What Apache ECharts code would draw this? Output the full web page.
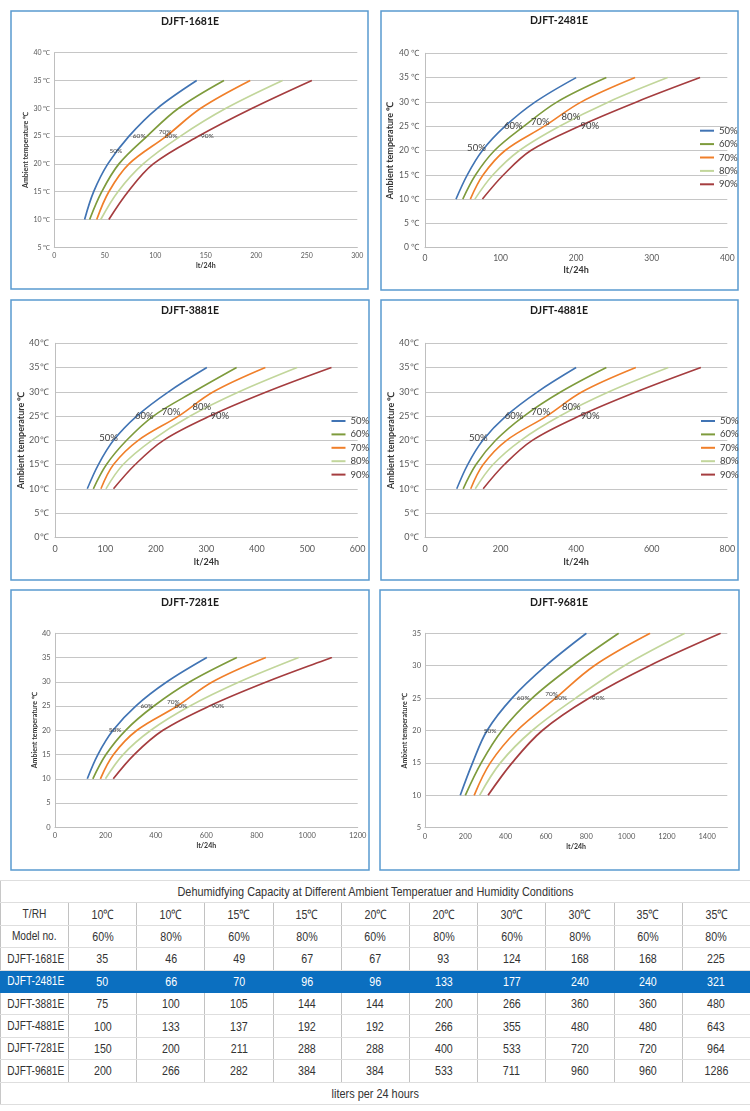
<!DOCTYPE html>
<html>
<head>
<meta charset="utf-8">
<script src="https://cdn.jsdelivr.net/npm/echarts/dist/echarts.min.js"></script>
<style>
  html, body { margin: 0; padding: 0; background: #fff; }
  #wrap { position: relative; width: 750px; height: 1111px; overflow: hidden; }
  #chart { position: absolute; left: 0; top: 0; width: 750px; height: 876px; }
  #tbl { position: absolute; left: 0; top: 880px; width: 750px; border-collapse: collapse; table-layout: fixed;
         font-size: 13px; color: #333; }
  #tbl tr { height: 22.4px; }
  #tbl td { padding: 0; text-align: center; white-space: nowrap; overflow: hidden;
            border-left: 1px solid #c2c2c2; border-right: 1px solid #c2c2c2;
            border-top: 1px solid #dedede; border-bottom: 1px solid #dedede; }
  #tbl td.first { font-size: 12.4px; }
  #tbl td.span { border-left: 1px solid #c8c8c8; border-right: 1px solid #c8c8c8; font-size: 13.3px; }
  #tbl tr.hl td { background: #0B6FC0; color: #fff; border-color: #0B6FC0; }
  #tbl span { display: inline-block; }
</style>
</head>
<body>
<div id="wrap">
  <div id="chart"></div>
  <table id="tbl"></table>
</div>
<script>
// ---------------- DATA ----------------
const temps = [10, 15, 20, 25, 30, 35];
const rhNames = ['50%', '60%', '70%', '80%', '90%'];

const cap1681 = [
  [30, 39, 53, 74, 102, 141],
  [35, 47, 64, 92, 123, 168],
  [42, 54, 74, 111, 145, 194],
  [46, 63, 88, 125, 170, 226],
  [54, 73, 98, 143, 196, 255]
];
const cap2481 = [
  [41, 56, 76, 106, 146, 200],
  [50, 67, 92, 131, 175, 240],
  [60, 77, 106, 158, 207, 278],
  [66, 90, 125, 178, 243, 321],
  [76, 104, 140, 204, 280, 364]
];
const cap3881 = [
  [64, 86, 116, 162, 225, 301],
  [76, 102, 142, 195, 275, 360],
  [91, 116, 165, 245, 314, 417],
  [101, 135, 192, 268, 365, 480],
  [116, 159, 215, 307, 420, 548]
];
const cap4881 = [
  [84, 113, 153, 214, 298, 400],
  [101, 135, 187, 262, 360, 480],
  [121, 154, 216, 322, 416, 558],
  [133, 180, 254, 357, 487, 644],
  [154, 210, 284, 408, 560, 730]
];
const cap7281 = [
  [128, 170, 230, 320, 444, 602],
  [150, 202, 280, 392, 535, 721],
  [180, 232, 325, 485, 625, 836],
  [200, 270, 380, 535, 732, 966],
  [231, 314, 428, 612, 840, 1098]
];
const cap9681 = [
  [175, 236, 308, 432, 600, 801],
  [200, 279, 382, 532, 732, 961],
  [244, 324, 457, 648, 840, 1117],
  [271, 374, 532, 748, 989, 1289],
  [313, 432, 582, 815, 1114, 1467]
];

const tableTitle = 'Dehumidfying Capacity at Different Ambient Temperatuer and Humidity Conditions';
const tableTempRow = ['T/RH', '10℃', '10℃', '15℃', '15℃', '20℃', '20℃', '30℃', '30℃', '35℃', '35℃'];
const tableRhRow = ['Model no.', '60%', '80%', '60%', '80%', '60%', '80%', '60%', '80%', '60%', '80%'];
const tableModels = ['DJFT-1681E', 'DJFT-2481E', 'DJFT-3881E', 'DJFT-4881E', 'DJFT-7281E', 'DJFT-9681E'];
const tableValues = [
  [35, 46, 49, 67, 67, 93, 124, 168, 168, 225],
  [50, 66, 70, 96, 96, 133, 177, 240, 240, 321],
  [75, 100, 105, 144, 144, 200, 266, 360, 360, 480],
  [100, 133, 137, 192, 192, 266, 355, 480, 480, 643],
  [150, 200, 211, 288, 288, 400, 533, 720, 720, 964],
  [200, 266, 282, 384, 384, 533, 711, 960, 960, 1286]
];
const tableFooter = 'liters per 24 hours';
const highlightModel = 'DJFT-2481E';

// ---------------- LAYOUT / STYLE ----------------
const colors = ['#4174B4', '#7E9B3C', '#F07F2A', '#C2D69B', '#A53D3F'];
const FONT = 'Lato, "Open Sans", sans-serif';
const labelIdx = [2, 3, 3, 3, 3];

const panels = [
  { title: 'DJFT-1681E', data: cap1681, box: [11, 11, 357, 278], tx: 190, ty: 16,
    grid: { left: 54.3, top: 52.7, width: 303, height: 194.6 },
    x: [0, 300, 50], y: [5, 40, 5], unit: ' ℃', tick: 7, name: 7, ygap: 20, xgap: 15, ym: 4, xm: 5,
    lbl: 6.5, offs: [[8, -13], [-8, 0], [-1.4, -4], [-9.5, 0], [8.6, 0]], legend: null },
  { title: 'DJFT-2481E', data: cap2481, box: [381, 11, 357, 279], tx: 559, ty: 15.5,
    grid: { left: 425, top: 53.3, width: 302.3, height: 194.4 },
    x: [0, 400, 100], y: [0, 40, 5], unit: ' ℃', tick: 8.5, name: 9, ygap: 30, xgap: 18, ym: 6, xm: 6.5,
    lbl: 9.5, offs: [[-6, -2.5], [-10.6, 0], [-4, -4.4], [11.4, -9], [10.6, 0]], legend: { left: 700, top: 124 } },
  { title: 'DJFT-3881E', data: cap3881, box: [11, 300, 358, 280], tx: 190, ty: 305,
    grid: { left: 55, top: 343.3, width: 302.7, height: 194 },
    x: [0, 600, 100], y: [0, 40, 5], unit: '℃', tick: 9, name: 9, ygap: 29, xgap: 20, ym: 6.5, xm: 7,
    lbl: 9.5, offs: [[-5, -2], [-9, 0], [-7.6, -4], [11.5, -9], [10, 0]], legend: { left: 331.5, top: 414.3 } },
  { title: 'DJFT-4881E', data: cap4881, box: [381, 300, 357, 280], tx: 559, ty: 305,
    grid: { left: 425, top: 343.3, width: 302.3, height: 194 },
    x: [0, 800, 200], y: [0, 40, 5], unit: '℃', tick: 9, name: 9, ygap: 29.5, xgap: 20, ym: 6.5, xm: 7,
    lbl: 9.5, offs: [[-4.5, -2], [-10, 0], [-6, -4], [11.5, -9.5], [11, 0]], legend: { left: 701, top: 414.3 } },
  { title: 'DJFT-7281E', data: cap7281, box: [11, 590, 358, 280], tx: 190, ty: 597,
    grid: { left: 55, top: 633.3, width: 302.7, height: 194 },
    x: [0, 1200, 200], y: [0, 40, 5], unit: '', tick: 7.5, name: 7, ygap: 13, xgap: 15, ym: 4.3, xm: 4.7,
    lbl: 6.5, offs: [[2, 0], [-7, 0], [-4, -4.5], [-9, 0], [8.5, 0]], legend: null },
  { title: 'DJFT-9681E', data: cap9681, box: [380, 590, 359, 280], tx: 559, ty: 597,
    grid: { left: 425, top: 633.3, width: 302.3, height: 194.4 },
    x: [0, 1500, 200], y: [5, 35, 5], unit: '', tick: 7.5, name: 7, ygap: 13, xgap: 15.5, ym: 4, xm: 4.5,
    lbl: 6.5, offs: [[3, 0], [-9, 0], [-4, -4], [-15, 0], [9, 0]], legend: null, hideMax: true }
];

const option = {
  animation: false,
  backgroundColor: '#fff',
  title: [], grid: [], xAxis: [], yAxis: [], series: [], legend: [], graphic: []
};

panels.forEach((p, i) => {
  option.graphic.push({
    type: 'rect', silent: true, z: -10,
    shape: { x: p.box[0], y: p.box[1], width: p.box[2], height: p.box[3] },
    style: { fill: '#fff', stroke: '#5A9BD0', lineWidth: 1.5 }
  });
  option.title.push({
    text: p.title, left: p.tx, top: p.ty, textAlign: 'center', padding: 0,
    textStyle: { fontSize: 10.5, fontWeight: 'bold', color: '#1a1a1a', fontFamily: FONT }
  });
  option.grid.push(Object.assign({ containLabel: false, outerBoundsMode: 'none' }, p.grid));
  option.xAxis.push({
    type: 'value', gridIndex: i, min: p.x[0], max: p.x[1], interval: p.x[2],
    name: 'lt/24h', nameLocation: 'middle', nameGap: p.xgap,
    nameTextStyle: { fontSize: p.name, fontWeight: 'bold', color: '#333', fontFamily: FONT, verticalAlign: 'top' },
    axisLine: { show: true, lineStyle: { color: '#bfbfbf', width: 1 } },
    axisTick: { show: false },
    splitLine: { show: false },
    axisLabel: { fontSize: p.tick, color: '#595959', margin: p.xm, fontFamily: FONT,
                 formatter: v => String(v), showMaxLabel: !p.hideMax, hideOverlap: false }
  });
  option.yAxis.push({
    type: 'value', gridIndex: i, min: p.y[0], max: p.y[1], interval: p.y[2],
    name: 'Ambient temperature ℃', nameLocation: 'middle', nameRotate: 90, nameGap: p.ygap,
    nameTextStyle: { fontSize: p.name, fontWeight: 'bold', color: '#333', fontFamily: FONT },
    axisLine: { show: true, lineStyle: { color: '#bfbfbf', width: 1 } },
    axisTick: { show: false },
    splitLine: { show: true, lineStyle: { color: '#c6c6c6', width: 1 } },
    axisLabel: { fontSize: p.tick, color: '#595959', margin: p.ym, fontFamily: FONT,
                 formatter: v => v + p.unit, hideOverlap: false }
  });
  rhNames.forEach((nm, k) => {
    const idx = labelIdx[k];
    option.series.push({
      type: 'line', name: nm, xAxisIndex: i, yAxisIndex: i,
      smooth: 0.35, symbol: 'none', showSymbol: false,
      lineStyle: { color: colors[k], width: p.lbl > 8 ? 1.6 : 1.7 },
      itemStyle: { color: colors[k] },
      data: temps.map((t, j) => [p.data[k][j], t]),
      markPoint: {
        symbol: 'circle', symbolSize: 0, silent: true, animation: false,
        itemStyle: { color: 'rgba(0,0,0,0)' },
        data: [{
          coord: [p.data[k][idx], temps[idx]],
          label: { show: true, formatter: nm, position: 'inside', offset: p.offs[k],
                   fontSize: p.lbl, color: '#404040', fontFamily: FONT }
        }]
      }
    });
  });
  if (p.legend) {
    option.legend.push({
      orient: 'vertical', left: p.legend.left, top: p.legend.top, padding: 0,
      data: rhNames.slice(), icon: 'rect', itemWidth: 14, itemHeight: 2, itemGap: 0,
      selectedMode: false,
      textStyle: { fontSize: 9.5, color: '#404040', fontFamily: FONT, lineHeight: 13.4 }
    });
  }
});

const chart = echarts.init(document.getElementById('chart'), null, { renderer: 'canvas' });
chart.setOption(option);

// ---------------- TABLE ----------------
function fontAvailable(name) {
  const c = document.createElement('canvas').getContext('2d');
  const s = 'DJFT-1681E 0123456789 Temperature';
  c.font = '20px monospace';
  const a = c.measureText(s).width;
  c.font = '20px "' + name + '", monospace';
  const b = c.measureText(s).width;
  return a !== b;
}
const narrow = fontAvailable('Liberation Sans Narrow');
const tbl = document.getElementById('tbl');
tbl.style.fontFamily = narrow ? '"Liberation Sans Narrow", sans-serif' : '"Liberation Sans", Arial, sans-serif';
const sx = narrow ? '' : ' style="transform:scaleX(0.82)"';
const cell = (t, j) => '<td' + (j === 0 ? ' class="first"' : '') + '><span' + sx + '>' + t + '</span></td>';
let html = '<colgroup><col style="width:68px">' + '<col style="width:68.2px">'.repeat(10) + '</colgroup>';
html += '<tr><td class="span" colspan="11"><span' + sx + '>' + tableTitle + '</span></td></tr>';
html += '<tr>' + tableTempRow.map(cell).join('') + '</tr>';
html += '<tr>' + tableRhRow.map(cell).join('') + '</tr>';
tableModels.forEach((m, r) => {
  html += '<tr' + (m === highlightModel ? ' class="hl"' : '') + '>' + [m].concat(tableValues[r]).map(cell).join('') + '</tr>';
});
html += '<tr><td class="span" colspan="11"><span' + sx + '>' + tableFooter + '</span></td></tr>';
tbl.innerHTML = html;
</script>
</body>
</html>
